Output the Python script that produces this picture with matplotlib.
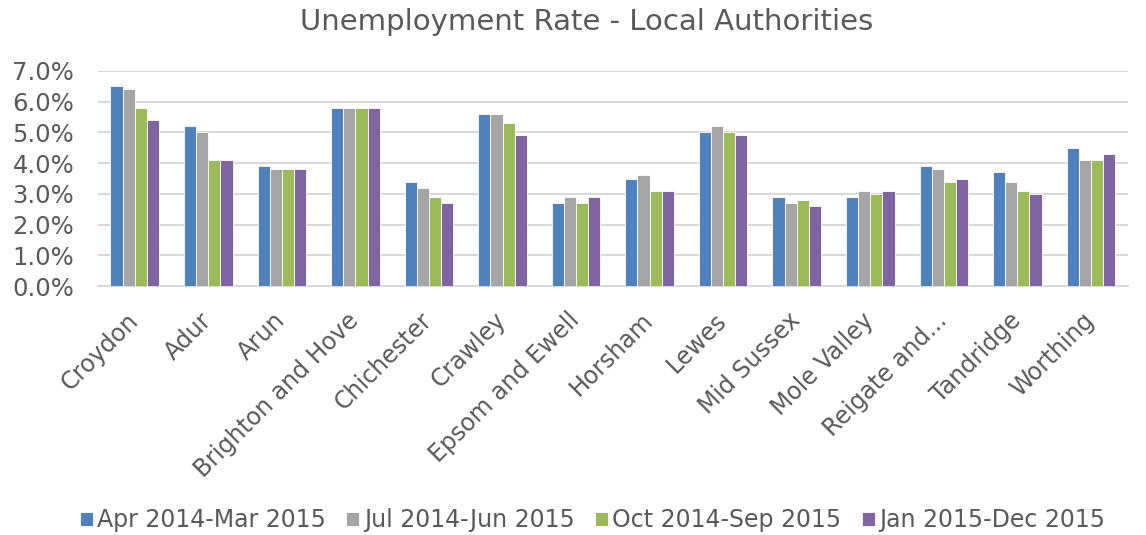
import numpy as np
import matplotlib
matplotlib.use("Agg")
import matplotlib.pyplot as plt
from matplotlib.ticker import FuncFormatter
from matplotlib.transforms import ScaledTranslation

areas = ["Croydon", "Adur", "Arun", "Brighton and Hove", "Chichester", "Crawley",
         "Epsom and Ewell", "Horsham", "Lewes", "Mid Sussex", "Mole Valley",
         "Reigate and...", "Tandridge", "Worthing"]
periods = ["Apr 2014-Mar 2015", "Jul 2014-Jun 2015", "Oct 2014-Sep 2015", "Jan 2015-Dec 2015"]
apr14 = [6.5, 5.2, 3.9, 5.8, 3.4, 5.6, 2.7, 3.5, 5.0, 2.9, 2.9, 3.9, 3.7, 4.5]
jul14 = [6.4, 5.0, 3.8, 5.8, 3.2, 5.6, 2.9, 3.6, 5.2, 2.7, 3.1, 3.8, 3.4, 4.1]
oct14 = [5.8, 4.1, 3.8, 5.8, 2.9, 5.3, 2.7, 3.1, 5.0, 2.8, 3.0, 3.4, 3.1, 4.1]
jan15 = [5.4, 4.1, 3.8, 5.8, 2.7, 4.9, 2.9, 3.1, 4.9, 2.6, 3.1, 3.5, 3.0, 4.3]
colors = ["#4F81BD", "#A5A5A5", "#9BBB59", "#8064A2"]

txt = "#595959"
plt.rcParams['font.family'] = ['DejaVu Sans']

fig = plt.figure(figsize=(11.46, 5.35), dpi=100)
ax = fig.add_axes([0.0855, 0.4654, 0.8985, 0.4019])

x = np.arange(len(areas))
w = 0.165
for i, (vals, lab) in enumerate(zip([apr14, jul14, oct14, jan15], periods)):
    ax.bar(x + (i - 1.5) * w, vals, w, color=colors[i], label=lab,
           edgecolor="white", linewidth=0.6, zorder=3)

ax.set_xlim(-0.5, len(areas) - 0.5)
ax.set_ylim(0, 7)
ax.set_yticks(np.arange(0, 7.5, 1))
ax.yaxis.set_major_formatter(FuncFormatter(lambda v, p: f"{v:.1f}%"))
ax.grid(axis="y", color="#D9D9D9", linewidth=1.5, zorder=0)
for s in ["top", "right", "left"]:
    ax.spines[s].set_visible(False)
ax.spines["bottom"].set_color("#D9D9D9")
ax.spines["bottom"].set_linewidth(1.5)
ax.tick_params(axis="both", length=0, colors=txt)
ax.tick_params(axis="y", pad=17, labelsize=17.5)
ax.tick_params(axis="x", pad=16)
ax.set_xticks(x)
ax.set_xticklabels(areas, rotation=45, ha="right", rotation_mode="anchor", fontsize=17)
# nudge the rotated labels a little to the left
shift = ScaledTranslation(-0.09, 0, fig.dpi_scale_trans)
for lbl in ax.get_xticklabels():
    lbl.set_transform(lbl.get_transform() + shift)

fig.suptitle("Unemployment Rate - Local Authorities", x=0.512, y=0.985, color=txt, fontsize=21)

fig.legend(loc="lower center", ncol=4, frameon=False, fontsize=17, labelcolor=txt,
           bbox_to_anchor=(0.517, -0.035), handlelength=0.55, handleheight=0.55,
           handletextpad=0.2, columnspacing=0.85)

fig.savefig("out.png", dpi=100)
